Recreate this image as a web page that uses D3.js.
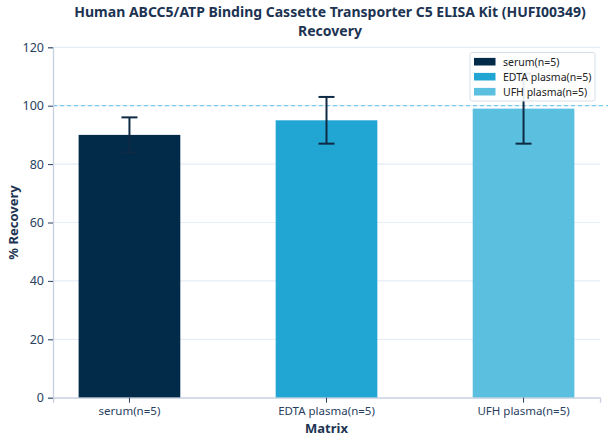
<!DOCTYPE html>
<html>
<head>
<meta charset="utf-8">
<script src="https://cdn.jsdelivr.net/npm/d3@7"></script>
<style>
body { margin: 0; background: #fff; }
text { font-family: "Noto Sans", "Open Sans", sans-serif; }
</style>
</head>
<body>
<svg id="chart" width="608" height="444"></svg>
<script>
const categories = ["serum(n=5)", "EDTA plasma(n=5)", "UFH plasma(n=5)"];
const recovery = [90, 95, 99];
const errors = [6, 8, 12];
const colors = ["#022b4a", "#21a5d3", "#5bbfdf"];
const yTicks = [0, 20, 40, 60, 80, 100, 120];
const referenceValue = 100;
const titleLines = ["Human ABCC5/ATP Binding Cassette Transporter C5 ELISA Kit (HUFI00349)", "Recovery"];

const svg = d3.select("#chart");
const mLeft = 53, mRight = 600, mTop = 47.3, mBottom = 397.7;

const x = d3.scaleBand().domain(categories).range([mLeft, mRight])
  .paddingInner(0.484).paddingOuter(0.13);
const y = d3.scaleLinear().domain([0, 120]).range([mBottom, mTop]);

const textColor = "#2a3f5f";
const titleColor = "#1c3352";

// gridlines
svg.append("g").selectAll("line").data(yTicks).join("line")
  .attr("x1", mLeft).attr("x2", mRight)
  .attr("y1", d => y(d)).attr("y2", d => y(d))
  .attr("stroke", "#e6edf5").attr("stroke-width", 1.2);

// bars
svg.append("g").selectAll("rect").data(categories).join("rect")
  .attr("x", d => x(d)).attr("width", x.bandwidth())
  .attr("y", (d, i) => y(recovery[i]))
  .attr("height", (d, i) => y(0) - y(recovery[i]))
  .attr("fill", (d, i) => colors[i]);

// reference line
svg.append("line")
  .attr("x1", mLeft).attr("x2", 608)
  .attr("y1", y(referenceValue)).attr("y2", y(referenceValue))
  .attr("stroke", "#5cc3ea").attr("stroke-width", 1)
  .attr("stroke-dasharray", "4,3");

// error bars
const eb = svg.append("g").attr("stroke", "#0e2a45").attr("stroke-width", 2);
categories.forEach((c, i) => {
  const cx = x(c) + x.bandwidth() / 2;
  const hi = y(recovery[i] + errors[i]), lo = y(recovery[i] - errors[i]);
  eb.append("line").attr("x1", cx).attr("x2", cx).attr("y1", hi).attr("y2", lo);
  eb.append("line").attr("x1", cx - 8).attr("x2", cx + 8).attr("y1", hi).attr("y2", hi);
  eb.append("line").attr("x1", cx - 8).attr("x2", cx + 8).attr("y1", lo).attr("y2", lo);
});

// axes
const yAxis = svg.append("g").attr("transform", `translate(${mLeft},0)`)
  .call(d3.axisLeft(y).tickValues(yTicks).tickSize(5).tickPadding(4));
const xAxis = svg.append("g").attr("transform", `translate(0,${mBottom})`)
  .call(d3.axisBottom(x).tickSize(5).tickPadding(4));
[yAxis, xAxis].forEach(a => {
  a.select(".domain").attr("stroke", "#c5d1de").attr("stroke-width", 1.3);
  a.selectAll(".tick line").attr("stroke", textColor).attr("stroke-width", 1);
  a.selectAll(".tick text").attr("fill", textColor)
    .attr("font-family", "'Noto Sans', sans-serif");
});
yAxis.selectAll(".tick text").attr("font-size", 12.5);
xAxis.selectAll(".tick text").attr("font-size", 11.5);

// axis titles
svg.append("text").attr("x", (mLeft + mRight) / 2).attr("y", 433)
  .attr("text-anchor", "middle").attr("font-size", 13).attr("font-weight", "bold")
  .attr("fill", titleColor).text("Matrix");
svg.append("text").attr("transform", `translate(18,${(mTop + mBottom) / 2}) rotate(-90)`)
  .attr("text-anchor", "middle").attr("font-size", 13).attr("font-weight", "bold")
  .attr("fill", titleColor).text("% Recovery");

// title (two lines)
titleLines.forEach((t, i) => {
  svg.append("text").attr("x", 330).attr("y", 16.8 + i * 19.3)
    .attr("text-anchor", "middle").attr("font-size", 14).attr("font-weight", "bold")
    .attr("fill", titleColor).text(t);
});

// legend
const lg = svg.append("g");
lg.append("rect").attr("x", 470).attr("y", 52.5).attr("width", 125).attr("height", 48.5)
  .attr("rx", 2).attr("fill", "#fff").attr("fill-opacity", 0.9)
  .attr("stroke", "#d6dfe9").attr("stroke-width", 1);
categories.forEach((c, i) => {
  const cy = 61.7 + i * 15;
  lg.append("rect").attr("x", 474).attr("y", cy - 3.8).attr("width", 21.5).attr("height", 7.6)
    .attr("fill", colors[i]);
  lg.append("text").attr("x", 503).attr("y", cy + 3.8).attr("font-size", 10.5)
    .attr("fill", "#222").text(c);
});
</script>
</body>
</html>
